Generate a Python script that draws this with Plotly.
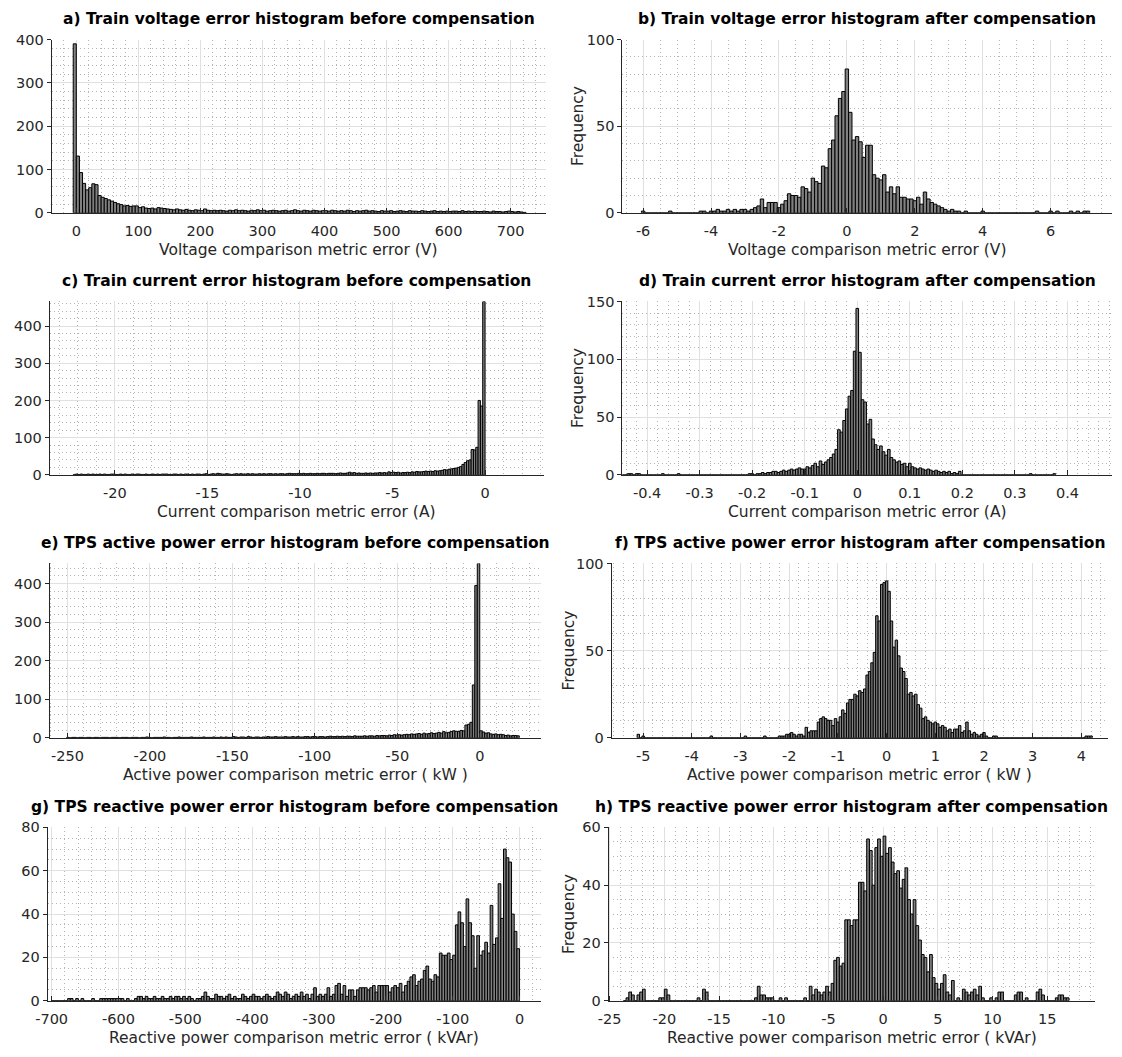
import plotly.graph_objects as go

FIG_W, FIG_H = 1122, 1057
FONT = "DejaVu Sans"
INK = "#262626"
BAR_FILL = "#808080"
BAR_EDGE = "#000000"
GRID = "#e0e0e0"
MINOR_GRID = "#b4b4b4"

# ---------------- histogram data (first bin edge, bin width, counts) ----------------
# a) train voltage error before compensation
volt_before_start, volt_before_width = -5.0, 5.0
volt_before_counts = [
    390, 131, 93, 68, 53, 58, 67, 65, 40, 36,
    33, 30, 27, 24, 21, 19, 16, 17, 15, 16,
    16, 12, 14, 11, 10, 11, 9, 12, 11, 10,
    9, 8, 7, 9, 7, 6, 8, 6, 5, 7,
    6, 5, 9, 6, 5, 6, 5, 6, 5, 4,
    6, 5, 7, 5, 6, 5, 4, 6, 5, 7,
    5, 6, 4, 5, 6, 5, 4, 5, 6, 4,
    5, 7, 5, 4, 6, 5, 4, 6, 5, 4,
    5, 5, 4, 6, 5, 4, 5, 4, 6, 5,
    3, 5, 4, 5, 6, 4, 5, 4, 3, 5,
    4, 4, 5, 3, 4, 5, 4, 3, 5, 4,
    4, 3, 5, 4, 3, 4, 5, 3, 4, 3,
    4, 3, 4, 4, 3, 5, 3, 4, 3, 4,
    3, 3, 4, 3, 2, 4, 3, 3, 2, 3,
    4, 3, 2, 3, 2, 1,
]

# b) train voltage error after compensation
volt_after_start, volt_after_width = -6.05, 0.1
volt_after_counts = [
    1, 0, 0, 0, 0, 0, 0, 0, 1, 0,
    0, 0, 0, 0, 0, 0, 0, 1, 1, 0,
    1, 1, 2, 1, 1, 2, 1, 2, 1, 2,
    2, 1, 2, 3, 4, 8, 3, 6, 6, 6,
    3, 5, 7, 11, 10, 10, 9, 15, 14, 12,
    20, 18, 17, 27, 26, 37, 42, 56, 66, 70,
    83, 58, 42, 44, 41, 32, 39, 39, 22, 20,
    19, 22, 12, 15, 11, 15, 9, 9, 8, 8,
    7, 9, 5, 12, 8, 6, 5, 4, 3, 2,
    1, 2, 1, 1, 0, 1, 0, 0, 0, 0,
    1, 0, 0, 0, 0, 0, 0, 0, 0, 0,
    0, 0, 0, 0, 0, 0, 1, 0, 0, 0,
    1, 0, 1, 0, 0, 0, 1, 0, 1, 0,
    1, 1,
]

# c) train current error before compensation
curr_before_start, curr_before_width = -22.25, 0.125
curr_before_counts = [
    1, 2, 1, 2, 1, 1, 2, 1,
    2, 1, 1, 2, 1, 2, 1, 1,
    2, 2, 1, 1, 2, 1, 2, 1,
    1, 2, 1, 2, 2, 1, 1, 2,
    1, 1, 2, 1, 2, 1, 2, 2,
    2, 1, 1, 2, 2, 1, 2, 1,
    2, 2, 1, 2, 1, 2, 2, 1,
    2, 3, 1, 2, 3, 2, 4, 3,
    2, 2, 3, 2, 1, 2, 3, 2,
    3, 2, 2, 3, 2, 3, 2, 2,
    3, 2, 3, 2, 3, 3, 2, 3,
    2, 3, 3, 2, 3, 4, 3, 3,
    3, 4, 3, 4, 3, 3, 4, 3,
    3, 4, 3, 4, 4, 3, 4, 4,
    4, 3, 4, 5, 4, 4, 5, 7,
    5, 6, 4, 5, 4, 4, 5, 4,
    5, 4, 5, 5, 6, 5, 6, 5,
    8, 6, 7, 6, 7, 5, 6, 6,
    7, 6, 8, 7, 9, 8, 8, 9,
    10, 9, 10, 9, 11, 10, 11, 12,
    14, 13, 15, 16, 17, 18, 20, 22,
    28, 33, 38, 40, 68, 67, 74, 200,
    185, 466,
]

# d) train current error after compensation
curr_after_start, curr_after_width = -0.4525, 0.005
curr_after_counts = [
    0, 0, 0, 1, 1, 0, 1, 1, 0, 0,
    0, 0, 0, 0, 0, 0, 1, 0, 0, 0,
    0, 0, 1, 0, 0, 0, 0, 0, 0, 0,
    0, 0, 0, 0, 0, 0, 0, 0, 0, 0,
    0, 0, 0, 0, 0, 0, 0, 0, 0, 1,
    1, 0, 1, 1, 2, 1, 2, 2, 3, 3,
    2, 3, 4, 3, 4, 5, 4, 5, 6, 5,
    5, 7, 6, 8, 10, 7, 12, 9, 11, 13,
    15, 18, 22, 39, 37, 47, 57, 68, 73, 107,
    144, 106, 65, 63, 44, 48, 31, 26, 22, 25,
    20, 17, 22, 15, 13, 11, 12, 9, 10, 7,
    10, 7, 6, 5, 6, 5, 4, 5, 4, 3,
    4, 3, 2, 3, 2, 3, 1, 2, 1, 3,
    0, 0, 0, 0, 0, 0, 0, 0, 0, 0,
    0, 0, 0, 0, 0, 0, 0, 0, 0, 0,
    0, 0, 0, 0, 0, 0, 1, 0, 0, 0,
    0, 0, 0, 0, 0, 1,
]

# e) TPS active power error before compensation
pact_before_start, pact_before_width = -250.5, 1.5
pact_before_counts = [
    1, 0, 1, 1, 0, 1, 1, 0, 1, 1,
    0, 1, 1, 0, 1, 1, 1, 0, 1, 1,
    1, 0, 1, 1, 1, 0, 1, 1, 1, 0,
    1, 1, 2, 1, 0, 1, 1, 1, 1, 2,
    1, 1, 0, 1, 1, 2, 1, 1, 1, 1,
    2, 1, 1, 1, 1, 2, 1, 1, 1, 2,
    1, 1, 2, 1, 2, 1, 1, 3, 2, 1,
    2, 2, 1, 3, 2, 1, 2, 2, 1, 2,
    2, 3, 2, 2, 3, 2, 2, 2, 3, 2,
    2, 3, 2, 3, 2, 2, 3, 3, 2, 3,
    3, 2, 3, 3, 2, 3, 4, 3, 3, 4,
    3, 4, 3, 4, 4, 3, 5, 4, 4, 4,
    5, 4, 5, 5, 4, 6, 5, 6, 6, 5,
    7, 6, 8, 7, 8, 7, 8, 9, 8, 10,
    9, 10, 11, 9, 12, 10, 11, 13, 11, 12,
    14, 12, 16, 13, 14, 16, 18, 17, 16, 19,
    18, 33, 35, 40, 137, 395, 452,
    18, 15, 12, 13, 10, 9, 10, 8, 9, 8, 6, 7, 5, 6, 6, 5,
]

# f) TPS active power error after compensation
pact_after_start, pact_after_width = -5.125, 0.05
pact_after_counts = [
    2, 0, 1, 0, 0, 0, 0, 0, 0, 0, 0, 0, 0, 0, 0, 0, 0, 0, 0, 0,
    0, 0, 0, 0, 0, 0, 0, 0, 0, 0, 1, 0, 0, 0, 0, 0, 0, 0, 0, 0,
    0, 0, 0, 0, 1, 0, 0, 0, 0, 0, 0, 0, 1, 0, 0, 0, 0, 0, 1, 1,
    1, 2, 2, 3, 2, 1, 2, 2, 1, 6, 3, 4, 4, 4, 9, 11, 12, 11, 10, 10,
    7, 11, 9, 12, 16, 14, 20, 22, 22, 25, 24, 27, 26, 28, 36, 38, 43, 49, 70, 67,
    88, 89, 90, 84, 67, 52, 56, 47, 40, 38, 34, 25, 26, 24, 25, 19, 17, 11, 12, 10,
    9, 8, 9, 8, 6, 7, 6, 4, 5, 3, 5, 5, 7, 3, 4, 9, 4, 2, 3, 2,
    1, 2, 3, 1, 0, 0, 1, 1, 0, 0, 0, 0, 0, 0, 0, 0, 0, 0, 0, 0,
    0, 0, 0, 0, 0, 0, 0, 0, 0, 0, 0, 0, 0, 0, 0, 0, 0, 0, 0, 0,
    0, 0, 0, 0, 1, 1, 1,
]

# g) TPS reactive power error before compensation
prea_before_start, prea_before_width = -700.0, 4.0
prea_before_counts = [
    0, 0, 0, 0, 0, 0, 1, 1, 0, 1, 0, 1, 0, 0, 0, 1, 0, 0, 1, 1, 1, 1, 1, 1, 1,
    1, 1, 0, 1, 0, 0, 1, 2, 2, 1, 2, 1, 1, 2, 1, 1, 2, 1, 1, 2, 1, 2, 2, 1, 2,
    1, 2, 1, 0, 1, 1, 2, 4, 2, 1, 1, 3, 2, 2, 1, 2, 3, 1, 2, 1, 1, 3, 2, 1, 2,
    3, 2, 2, 1, 2, 3, 2, 1, 2, 4, 3, 2, 4, 3, 1, 2, 3, 2, 4, 2, 3, 1, 3, 6, 2,
    3, 2, 3, 6, 2, 3, 7, 8, 3, 7, 2, 5, 5, 2, 5, 6, 6, 6, 5, 6, 7, 4, 7, 7, 7,
    7, 4, 6, 7, 6, 8, 4, 7, 9, 11, 12, 7, 9, 10, 14, 16, 10, 9, 12, 11, 22, 21, 21, 22, 19,
    21, 35, 41, 36, 25, 47, 36, 30, 15, 30, 21, 23, 27, 22, 44, 26, 29, 54, 38, 70, 66, 64, 40, 32, 24,
]

# h) TPS reactive power error after compensation
prea_after_start, prea_after_width = -23.75, 0.25
prea_after_counts = [
    0, 1, 3, 2, 0, 2, 3, 4, 0, 0,
    0, 0, 0, 1, 1, 4, 2, 0, 0, 0,
    0, 0, 0, 0, 0, 0, 0, 1, 0, 4,
    3, 0, 0, 0, 0, 0, 0, 0, 0, 0,
    0, 0, 0, 0, 0, 0, 0, 0, 1, 5,
    2, 2, 1, 1, 1, 0, 0, 1, 0, 1,
    0, 0, 0, 0, 0, 0, 1, 0, 5, 2,
    4, 3, 2, 3, 5, 3, 6, 14, 15, 12,
    13, 28, 28, 26, 28, 28, 41, 41, 38, 56,
    52, 40, 53, 56, 50, 57, 51, 53, 48, 44,
    45, 39, 42, 46, 35, 30, 35, 26, 21, 16,
    15, 10, 16, 8, 6, 4, 6, 9, 3, 2,
    7, 0, 1, 0, 4, 3, 2, 3, 4, 2,
    5, 1, 0, 0, 1, 0, 1, 3, 3, 0,
    0, 0, 0, 2, 3, 3, 0, 1, 0, 0,
    0, 3, 4, 2, 0, 0, 0, 0, 1, 2,
    2, 1, 1,
]

# ---------------- axis ticks ----------------
volt_before_xticks = [0, 100, 200, 300, 400, 500, 600, 700]
volt_after_xticks = [-6, -4, -2, 0, 2, 4, 6]
curr_before_xticks = [-20, -15, -10, -5, 0]
curr_after_xticks = [-0.4, -0.3, -0.2, -0.1, 0, 0.1, 0.2, 0.3, 0.4]
pact_before_xticks = [-250, -200, -150, -100, -50, 0]
pact_after_xticks = [-5, -4, -3, -2, -1, 0, 1, 2, 3, 4]
prea_before_xticks = [-700, -600, -500, -400, -300, -200, -100, 0]
prea_after_xticks = [-25, -20, -15, -10, -5, 0, 5, 10, 15]

yticks_400 = [0, 100, 200, 300, 400]
yticks_100 = [0, 50, 100]
yticks_150 = [0, 50, 100, 150]
yticks_80 = [0, 20, 40, 60, 80]
yticks_60 = [0, 20, 40, 60]

titles = [
    "a) Train voltage error histogram before compensation",
    "b) Train voltage error histogram after compensation",
    "c) Train current error histogram before compensation",
    "d) Train current error histogram after compensation",
    "e) TPS active power error histogram before compensation",
    "f) TPS active power error histogram after compensation",
    "g) TPS reactive power error histogram before compensation",
    "h) TPS reactive power error histogram after compensation",
]
xlabels = [
    "Voltage comparison metric error (V)",
    "Voltage comparison metric error (V)",
    "Current comparison metric error (A)",
    "Current comparison metric error (A)",
    "Active power comparison metric error ( kW )",
    "Active power comparison metric error ( kW )",
    "Reactive power comparison metric error ( kVAr)",
    "Reactive power comparison metric error ( kVAr)",
]
ylabel = "Frequency"

# ---------------- layout geometry (pixels) ----------------
ROWS = [(32, 208), (298, 474), (564, 741), (832, 1008)]

panels = [
    dict(start=volt_before_start, width=volt_before_width, counts=volt_before_counts,
         cols=(40, 540), xr=[-39.9, 757.4], xt=volt_before_xticks, xm=20,
         yr=[0, 400], yt=yticks_400, ym=20),
    dict(start=volt_after_start, width=volt_after_width, counts=volt_after_counts,
         cols=(617, 1112), xr=[-6.61, 7.81], xt=volt_after_xticks, xm=0.5,
         yr=[0, 100], yt=yticks_100, ym=10, ylab_x=572),
    dict(start=curr_before_start, width=curr_before_width, counts=curr_before_counts,
         cols=(38, 538), xr=[-23.53, 3.2], xt=curr_before_xticks, xm=1,
         yr=[0, 466], yt=yticks_400, ym=20),
    dict(start=curr_after_start, width=curr_after_width, counts=curr_after_counts,
         cols=(617, 1112), xr=[-0.447, 0.485], xt=curr_after_xticks, xm=0.02,
         yr=[0, 150], yt=yticks_150, ym=10, ylab_x=572),
    dict(start=pact_before_start, width=pact_before_width, counts=pact_before_counts,
         cols=(38, 535), xr=[-260.8, 37.3], xt=pact_before_xticks, xm=10,
         yr=[0, 452], yt=yticks_400, ym=20),
    dict(start=pact_after_start, width=pact_after_width, counts=pact_after_counts,
         cols=(606, 1108), xr=[-5.65, 4.55], xt=pact_after_xticks, xm=0.2,
         yr=[0, 100], yt=yticks_100, ym=10, ylab_x=563),
    dict(start=prea_before_start, width=prea_before_width, counts=prea_before_counts,
         cols=(36, 535), xr=[-706, 32.5], xt=prea_before_xticks, xm=20,
         yr=[0, 80], yt=yticks_80, ym=5),
    dict(start=prea_after_start, width=prea_after_width, counts=prea_after_counts,
         cols=(603, 1095), xr=[-25.1, 19.4], xt=prea_after_xticks, xm=1,
         yr=[0, 60], yt=yticks_60, ym=5, ylab_x=563),
]


def fx(px):
    return px / FIG_W


def fy(px):
    return 1 - px / FIG_H


def label(v):
    s = f"{v:g}"
    return "0" if s == "-0" else s


fig = go.Figure()
layout = dict(
    width=FIG_W, height=FIG_H, margin=dict(l=0, r=0, t=0, b=0), autosize=False,
    paper_bgcolor="white", plot_bgcolor="white", showlegend=False,
    font=dict(family=FONT, color=INK), annotations=[],
)

for i, p in enumerate(panels):
    n = i + 1
    col = p["cols"]
    row = ROWS[i // 2]
    xname = "x" if n == 1 else f"x{n}"
    yname = "y" if n == 1 else f"y{n}"
    centers = [p["start"] + p["width"] * (k + 0.5) for k in range(len(p["counts"]))]
    fig.add_trace(go.Bar(
        x=centers, y=p["counts"], width=p["width"], xaxis=xname, yaxis=yname,
        marker=dict(color=BAR_FILL, line=dict(color=BAR_EDGE, width=1.0)),
        hoverinfo="skip", showlegend=False,
    ))
    common = dict(
        showline=True, linecolor=INK, linewidth=1, mirror=False, zeroline=False,
        showgrid=True, gridcolor=GRID, gridwidth=1, fixedrange=True,
        tickfont=dict(family=FONT, size=14.5, color=INK), tickcolor=INK, tickwidth=1,
    )
    layout["xaxis" if n == 1 else f"xaxis{n}"] = dict(
        common, domain=[fx(col[0]), fx(col[1])], anchor=yname, range=p["xr"],
        tickmode="array", tickvals=p["xt"], ticktext=[label(v) for v in p["xt"]],
        ticks="inside", ticklen=5, ticklabelstandoff=5,
        minor=dict(tickmode="linear", tick0=p["xt"][0], dtick=p["xm"], showgrid=True,
                   gridcolor=MINOR_GRID, griddash="1px,3px", gridwidth=1, ticks=""),
    )
    layout["yaxis" if n == 1 else f"yaxis{n}"] = dict(
        common, domain=[fy(row[1]), fy(row[0])], anchor=xname, range=p["yr"],
        tickmode="array", tickvals=p["yt"], ticktext=[label(v) for v in p["yt"]],
        ticks="outside", ticklen=4,
        minor=dict(tickmode="linear", tick0=0, dtick=p["ym"], showgrid=True,
                   gridcolor=MINOR_GRID, griddash="1px,3px", gridwidth=1, ticks=""),
    )
    cx = (col[0] + col[1]) / 2
    layout["annotations"].append(dict(
        text=f"<b>{titles[i]}</b>", x=fx(cx), y=fy(row[0] - 21), xref="paper", yref="paper",
        xanchor="center", yanchor="middle", showarrow=False,
        font=dict(family=FONT, size=15.5, color="black"),
    ))
    layout["annotations"].append(dict(
        text=xlabels[i], x=fx(cx), y=fy(row[1] + 37.5), xref="paper", yref="paper",
        xanchor="center", yanchor="middle", showarrow=False,
        font=dict(family=FONT, size=15.5, color=INK),
    ))
    if "ylab_x" in p:
        layout["annotations"].append(dict(
            text=ylabel, x=fx(p["ylab_x"]), y=fy((row[0] + row[1]) / 2), xref="paper",
            yref="paper", xanchor="center", yanchor="middle", textangle=-90,
            showarrow=False, font=dict(family=FONT, size=15.5, color=INK),
        ))

fig.update_layout(**layout)
fig.write_html("out.html")
